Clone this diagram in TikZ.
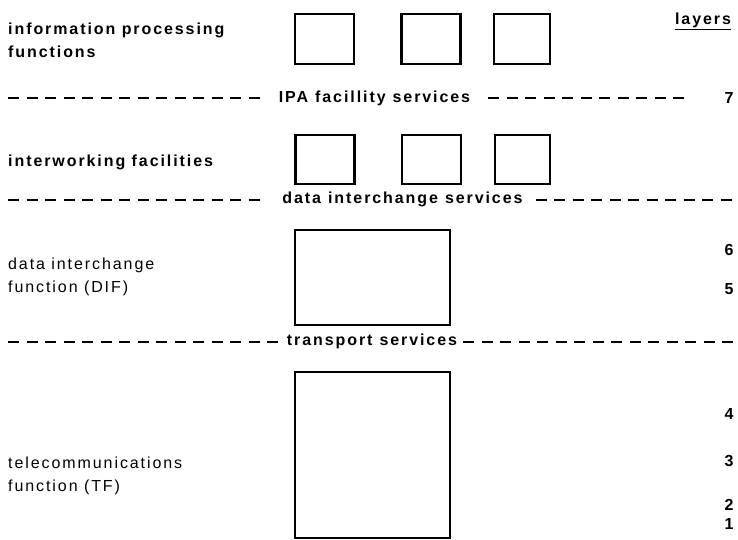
\documentclass[tikz,border=0pt]{standalone}
\usepackage{fontspec}
\setmainfont{Liberation Sans}[LetterSpace=12]
\newcommand{\svcfont}{\fontsize{16}{18}\selectfont\bfseries\spaceskip=7pt\relax}
\begin{document}
\begin{tikzpicture}[x=1pt,y=-1pt,
  box/.style={draw,line width=2.2pt,inner sep=0pt},
  lbl/.style={anchor=west,inner sep=0pt,font=\fontsize{16}{23}\selectfont,align=left},
  svc/.style={inner sep=0pt,font=\svcfont},
  num/.style={inner sep=0pt,font=\fontsize{16}{18}\selectfont\bfseries},
  dashline/.style={line width=1.8pt,dash pattern=on 11pt off 7.5pt}]
\useasboundingbox (0,0) rectangle (738,539);
% top row boxes
\node[box,minimum width=59pt,minimum height=50pt] (b11) at (324.5,39) {};
\node[box,minimum width=59pt,minimum height=50pt] (b12) at (431,39) {};
\node[box,minimum width=56pt,minimum height=50pt] (b13) at (522,39) {};
% second row boxes
\node[box,minimum width=59pt,minimum height=49pt] (b21) at (325,159.5) {};
\node[box,minimum width=59pt,minimum height=49pt] (b22) at (431.5,159.5) {};
\node[box,minimum width=55pt,minimum height=49pt] (b23) at (522.5,159.5) {};
% DIF and TF boxes
\node[box,minimum width=155pt,minimum height=95pt] (dif) at (372.5,277.5) {};
\node[box,minimum width=155pt,minimum height=166pt] (tf) at (372.5,455) {};
% left labels
\node[lbl,font=\fontsize{16}{23}\selectfont\bfseries] (ipf) at (8,40) {information processing\\functions};
\node[lbl,font=\fontsize{16}{23}\selectfont\bfseries] (iwf) at (8,162) {interworking facilities};
\node[lbl] (difl) at (8,277) {data interchange\\function (DIF)};
\node[lbl] (tfl) at (8,476) {telecommunications\\function (TF)};
% layers
\node[svc] (layers) at (703,20) {layers};
\draw[line width=1.2pt] ([yshift=-1.5pt]layers.south west) -- ([yshift=-1.5pt]layers.south east);
% service lines
\node[svc] (ipa) at (374.5,98) {IPA facillity services};
\coordinate (l1a) at (8,98); \coordinate (l1b) at (686,98);
\draw[dashline] (l1a) -- ([xshift=-12pt]ipa.west |- l1a);
\draw[dashline] ([xshift=18pt]ipa.east |- l1a) -- (l1b);
\node[svc] (dis) at (402.5,199) {data interchange services};
\coordinate (l2a) at (8,200); \coordinate (l2b) at (738,200);
\draw[dashline] (l2a) -- ([xshift=-22pt]dis.west |- l2a);
\draw[dashline] ([xshift=13pt]dis.east |- l2a) -- (l2b);
\node[svc] (ts) at (372,341) {transport services};
\coordinate (l3a) at (8,342); \coordinate (l3b) at (738,342);
\draw[dashline] (l3a) -- ([xshift=-7pt]ts.west |- l3a);
\draw[dashline] ([xshift=6pt]ts.east |- l3a) -- (l3b);
% layer numbers
\node[num] (n7) at (729,98) {7};
\node[num] (n6) at (729,250) {6};
\node[num] (n5) at (729,289) {5};
\node[num] (n4) at (729,414) {4};
\node[num] (n3) at (729,461) {3};
\node[num] (n2) at (729,505) {2};
\node[num] (n1) at (729,524) {1};
\end{tikzpicture}
\end{document}
